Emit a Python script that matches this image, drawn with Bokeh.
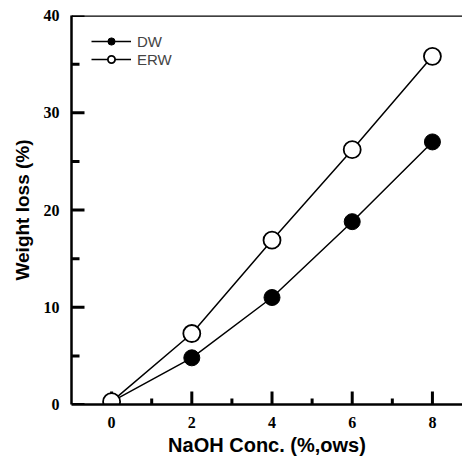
from bokeh.plotting import figure
from bokeh.models import Range1d, Legend, LegendItem, Span, FixedTicker
from bokeh.embed import file_html
from bokeh.resources import INLINE

naoh = [0, 2, 4, 6, 8]
dw = [0.3, 4.8, 11.0, 18.8, 27.0]
erw = [0.3, 7.3, 16.9, 26.2, 35.8]
x_ticks = [0, 2, 4, 6, 8]
x_minor = [1, 3, 5, 7]
y_ticks = [0, 10, 20, 30, 40]
y_minor = [5, 15, 25, 35]

x_start, x_end = -1, 8.75
y_start, y_end = 0, 40

W, H = 462, 458
BL, BR, BT, BB = 71, 0, 15, 54
frame_w = W - BL - BR
frame_h = H - BT - BB
ux = (x_end - x_start) / frame_w   # data units per pixel
uy = (y_end - y_start) / frame_h

p = figure(width=W, height=H, output_backend="svg", toolbar_location=None,
           x_range=Range1d(x_start, x_end), y_range=Range1d(y_start, y_end),
           min_border_left=BL, min_border_right=BR, min_border_top=BT, min_border_bottom=BB)
p.outline_line_color = None
p.grid.visible = False
p.background_fill_alpha = 0
p.border_fill_alpha = 0

# inward tick marks
def yticks(vals, px):
    p.segment([x_start] * len(vals), vals, [x_start + px * ux] * len(vals), vals,
              line_color="black", line_width=3)

def xticks(vals, px):
    p.segment(vals, [y_start] * len(vals), vals, [y_start + px * uy] * len(vals),
              line_color="black", line_width=3)

yticks(y_ticks, 13)
yticks(y_minor, 8)
xticks(x_ticks, 13)
xticks(x_minor, 6)

l1 = p.line(naoh, dw, line_color="black", line_width=1.5)
s1 = p.scatter(naoh, dw, size=16, marker="circle", fill_color="black", line_color="black")
l2 = p.line(naoh, erw, line_color="black", line_width=1.5)
s2 = p.scatter(naoh, erw, size=17, marker="circle", fill_color="white", line_color="black", line_width=1.8)

p.add_layout(Span(location=y_end, dimension="width", line_color="black", line_width=2.5))

for ax in (p.xaxis[0], p.yaxis[0]):
    ax.axis_line_width = 2.5
    ax.major_tick_in = 0
    ax.major_tick_out = 0
    ax.minor_tick_in = 0
    ax.minor_tick_out = 0
    ax.major_label_text_font = "Liberation Serif"
    ax.major_label_text_font_style = "bold"
    ax.major_label_text_font_size = "16px"
    ax.major_label_text_color = "black"
    ax.axis_label_text_font = "Liberation Sans"
    ax.axis_label_text_font_style = "bold"
    ax.axis_label_text_color = "black"

p.xaxis[0].ticker = FixedTicker(ticks=x_ticks, minor_ticks=x_minor)
p.yaxis[0].ticker = FixedTicker(ticks=y_ticks, minor_ticks=y_minor)
p.xaxis[0].axis_label = "NaOH Conc. (%,ows)"
p.yaxis[0].axis_label = "Weight loss (%)"
p.xaxis[0].axis_label_text_font_size = "20px"
p.yaxis[0].axis_label_text_font_size = "19px"
p.xaxis[0].major_label_standoff = 12
p.yaxis[0].major_label_standoff = 12
p.xaxis[0].axis_label_standoff = 3
p.yaxis[0].axis_label_standoff = 8

legend = Legend(items=[LegendItem(label="DW", renderers=[l1, s1]),
                       LegendItem(label="ERW", renderers=[l2, s2])],
                location=(20, 336), border_line_color=None, background_fill_alpha=0,
                glyph_width=40, glyph_height=18, label_text_font="Liberation Sans",
                label_text_font_size="15px", spacing=0, padding=2, margin=0,
                label_standoff=6)
p.add_layout(legend)

open("out.html", "w").write(file_html(p, INLINE))
